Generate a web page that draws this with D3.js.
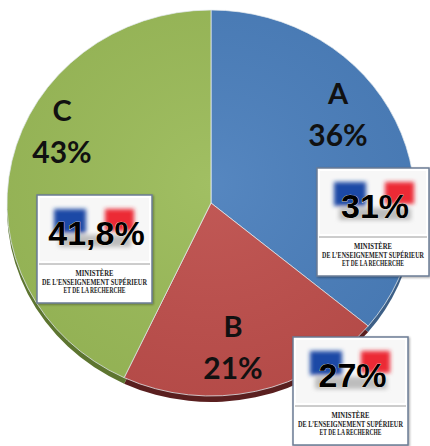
<!DOCTYPE html>
<html>
<head>
<meta charset="utf-8">
<script src="https://cdn.jsdelivr.net/npm/d3@7"></script>
<style>
  html, body { margin: 0; padding: 0; background: #fff; }
  svg { display: block; }
</style>
</head>
<body>
<svg id="chart" width="430" height="446"></svg>
<script>
// slice data
const categories = ['A', 'B', 'C']
const shares = [36, 21, 43]
const sliceColors = ['#4b7fbc', '#be4f4c', '#9bbb59']
const rimColors = ['#3d5f86', '#5a1f1f', '#5d7530']

// ministry boxes (same order as categories)
const ministryValues = ['31%', '27%', '41,8%']
const ministryLines = ['MINISTÈRE', 'DE L\u2019ENSEIGNEMENT SUPÉRIEUR', 'ET DE LA RECHERCHE']

const width = 430, height = 446
const cx = 211, cy = 203,
    rx = 204, ry = 193,
    depth = 6

// label spots and box spots (layout only)
const labelPos = [[338, 104], [233, 337], [62, 121]]
const boxPos = [[317, 168, 112], [293, 337, 115], [37, 195, 115]]

const svg = d3.select('#chart')
const defs = svg.append('defs')

defs.append('filter').attr('id', 'blur')
    .attr('x', '-50%').attr('y', '-50%').attr('width', '200%').attr('height', '200%')
  .append('feGaussianBlur').attr('stdDeviation', 2)

const shadow = defs.append('filter').attr('id', 'shadow')
    .attr('x', '-10%').attr('y', '-10%').attr('width', '130%').attr('height', '130%')
shadow.append('feDropShadow')
    .attr('dx', 1).attr('dy', 1).attr('stdDeviation', 1.2)
    .attr('flood-color', '#000').attr('flood-opacity', 0.35)

const shine = defs.append('radialGradient').attr('id', 'shine')
    .attr('cx', '50%').attr('cy', '45%').attr('r', '55%')
shine.append('stop').attr('offset', '0%').attr('stop-color', '#fff').attr('stop-opacity', 0.06)
shine.append('stop').attr('offset', '100%').attr('stop-color', '#000').attr('stop-opacity', 0.05)

const pie = d3.pie().sort(null).value(d => d)
const arcs = pie(shares)
const arc = d3.arc().innerRadius(0).outerRadius(rx)

// rim (3d thickness)
svg.append('g')
    .attr('transform', `translate(${cx}, ${cy + depth}) scale(1, ${ry / rx})`)
  .selectAll('path')
  .data(arcs)
  .join('path')
    .attr('d', arc)
    .attr('fill', (d, i) => rimColors[i])

const face = svg.append('g')
    .attr('transform', `translate(${cx}, ${cy}) scale(1, ${ry / rx})`)

face.selectAll('path.slice')
  .data(arcs)
  .join('path')
    .attr('class', 'slice')
    .attr('d', arc)
    .attr('fill', (d, i) => sliceColors[i])
    .attr('stroke', '#e8eef2')
    .attr('stroke-width', 0.8)

face.append('circle')
    .attr('r', rx)
    .attr('fill', 'url(#shine)')

// slice labels
const labels = svg.append('g')
    .attr('font-family', 'Lato, "Open Sans", sans-serif')
    .attr('font-weight', 'bold')
    .attr('fill', '#111')
    .attr('text-anchor', 'middle')

categories.forEach((c, i) => {
  const [x, y] = labelPos[i]
  labels.append('text').attr('x', x).attr('y', y).attr('font-size', 29).text(c)
  labels.append('text').attr('x', x).attr('y', y + 42).attr('font-size', 30).text(shares[i] + '%')
})

// ministry boxes
ministryValues.forEach((v, i) => {
  const [x, y, w] = boxPos[i]
  const h = 108
  const g = svg.append('g').attr('transform', `translate(${x}, ${y})`)

  g.append('rect')
      .attr('width', w).attr('height', h)
      .attr('fill', '#fff')
      .attr('stroke', '#6b7c95')
      .attr('stroke-width', 1.5)
      .attr('filter', 'url(#shadow)')

  g.append('rect')
      .attr('x', 3).attr('y', 3).attr('width', w - 6).attr('height', 63)
      .attr('fill', '#f7f7f7')

  const flags = g.append('g').attr('filter', 'url(#blur)')
  flags.append('rect').attr('x', 17).attr('y', 14).attr('width', 32).attr('height', 24).attr('fill', '#1a4aa6')
  flags.append('rect').attr('x', 68).attr('y', 14).attr('width', 29).attr('height', 22).attr('fill', '#ec2c36')
  flags.append('rect').attr('x', 22).attr('y', 40).attr('width', 72).attr('height', 12).attr('fill', '#bdbdbd')

  g.append('text')
      .attr('x', w / 2 + 2).attr('y', 50)
      .attr('text-anchor', 'middle')
      .attr('font-family', '"Liberation Sans", Arial, sans-serif')
      .attr('font-weight', 'bold')
      .attr('font-size', 34)
      .attr('fill', '#000')
      .attr('stroke', '#fff3e0')
      .attr('stroke-width', 0.6)
      .attr('paint-order', 'stroke')
      .text(v)

  g.append('line')
      .attr('x1', 2).attr('x2', w - 2)
      .attr('y1', 69).attr('y2', 69)
      .attr('stroke', '#9a9a9a').attr('stroke-width', 1)

  const fitW = [38, w - 10, 62]
  ministryLines.forEach((t, j) => {
    const txt = g.append('text')
        .attr('text-anchor', 'middle')
        .attr('font-family', '"Liberation Serif", "DejaVu Serif", serif')
        .attr('font-weight', 'bold')
        .attr('font-size', 7.5)
        .attr('fill', '#222')
        .text(t)
    // squeeze horizontally so the line fits the box
    const sx = Math.min(1, fitW[j] / txt.node().getComputedTextLength())
    txt.attr('transform', `translate(${w / 2}, ${81 + j * 8.7}) scale(${sx}, 1)`)
  })
})
</script>
</body>
</html>
